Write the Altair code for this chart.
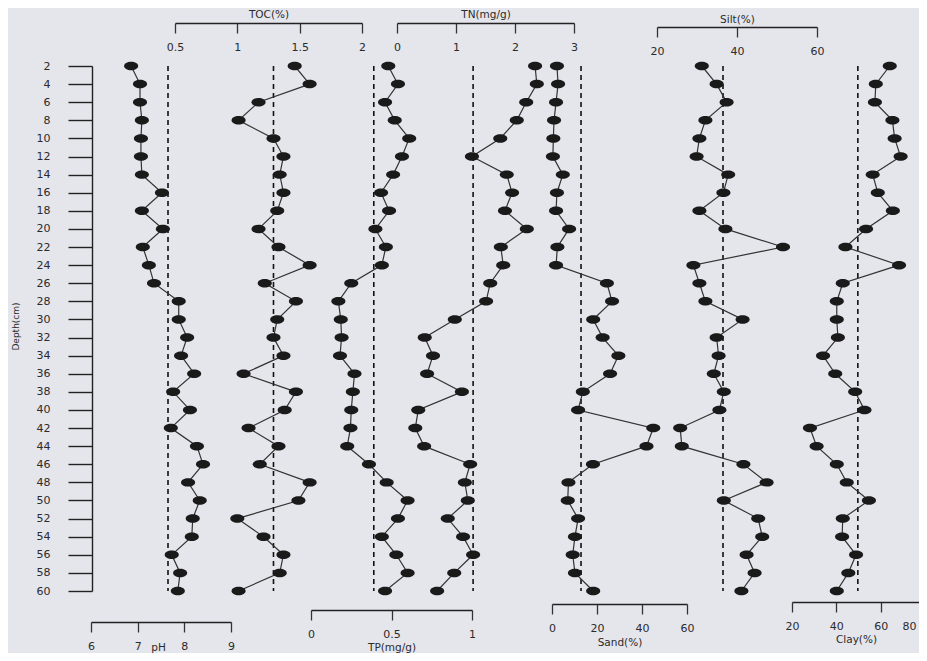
import altair as alt
import pandas as pd

# ---------------- data ----------------
depth = [2, 4, 6, 8, 10, 12, 14, 16, 18, 20, 22, 24, 26, 28, 30,
         32, 34, 36, 38, 40, 42, 44, 46, 48, 50, 52, 54, 56, 58, 60]

ph = [6.86, 7.05, 7.05, 7.09, 7.07, 7.07, 7.09, 7.52, 7.09, 7.54, 7.11, 7.24, 7.35, 7.88, 7.88,
      8.06, 7.93, 8.21, 7.76, 8.12, 7.71, 8.27, 8.40, 8.08, 8.33, 8.18, 8.16, 7.73, 7.91, 7.86]
toc = [1.46, 1.58, 1.17, 1.01, 1.29, 1.37, 1.34, 1.37, 1.32, 1.17, 1.33, 1.58, 1.22, 1.47, 1.32,
       1.29, 1.37, 1.05, 1.47, 1.38, 1.09, 1.33, 1.18, 1.58, 1.49, 1.00, 1.21, 1.37, 1.34, 1.01]
tp = [0.48, 0.54, 0.46, 0.52, 0.61, 0.565, 0.51, 0.435, 0.485, 0.40, 0.465, 0.44, 0.25, 0.17, 0.185,
      0.19, 0.18, 0.27, 0.26, 0.25, 0.245, 0.225, 0.36, 0.47, 0.60, 0.54, 0.44, 0.53, 0.60, 0.46]
tn = [2.34, 2.37, 2.19, 2.03, 1.75, 1.27, 1.86, 1.95, 1.83, 2.20, 1.76, 1.80, 1.58, 1.51, 0.98,
      0.47, 0.61, 0.51, 1.10, 0.36, 0.31, 0.46, 1.24, 1.15, 1.20, 0.86, 1.12, 1.29, 0.97, 0.68]
sand = [2.2, 2.7, 1.8, 0.9, 0.6, 0.4, 4.8, 2.2, 1.8, 7.6, 2.4, 1.8, 24.4, 26.7, 18.3,
        22.5, 29.5, 25.8, 13.7, 11.6, 45.0, 42.0, 18.2, 7.3, 7.0, 11.6, 10.2, 9.2, 10.2, 18.3]
silt = [31.2, 34.9, 37.4, 32.1, 30.6, 29.9, 37.8, 36.6, 30.6, 37.1, 51.5, 29.1, 30.6, 32.1, 41.4,
        34.9, 35.4, 34.2, 36.7, 35.6, 25.8, 26.2, 41.6, 47.4, 36.7, 45.3, 46.3, 42.4, 44.4, 41.1]
clay = [64.1, 57.8, 57.4, 65.3, 66.3, 69.0, 56.4, 58.7, 65.5, 53.4, 44.1, 68.3, 42.9, 40.2, 40.2,
        40.7, 34.0, 39.5, 48.5, 52.7, 28.1, 31.1, 40.2, 44.7, 54.7, 42.9, 42.6, 48.9, 45.4, 40.2]

# reference (dashed) lines
ref_lines = {"pH": 7.65, "TOC(%)": 1.29, "TP(mg/g)": 0.39, "TN(mg/g)": 1.29,
             "Sand(%)": 12.9, "Silt(%)": 36.5, "Clay(%)": 49.7}

# axis tick values
ticks_ph = [6, 7, 8, 9]
ticks_toc = [0.5, 1, 1.5, 2]
ticks_tp = [0, 0.5, 1]
ticks_tn = [0, 1, 2, 3]
ticks_sand = [0, 20, 40, 60]
ticks_silt = [20, 40, 60]
ticks_clay = [20, 40, 60, 80]

# ---------------- styling / layout ----------------
W, H = 911, 645
BG = "#e5e5ec"
TXT = "#2b2b2b"
PT = "#1a1a1a"
FONT = "DejaVu Sans"
ELLIPSE = "M-1,0A1,0.6 0 1,1 1,0A1,0.6 0 1,1 -1,0Z"


def P(v):
    """page pixel -> plot pixel"""
    return v - 8


yscale = alt.Scale(domain=[2, 60], range=[P(66), P(591)], nice=False, zero=False)
yaxis = alt.Axis(orient="left", offset=-(92 - 8), values=depth, tickSize=24, tickWidth=1.4,
                 tickColor="#222", domainColor="#222", domainWidth=1.4,
                 labelPadding=18, labelFont=FONT, labelFontSize=11, labelColor=TXT,
                 labelOverlap=False, grid=False,
                 title="Depth(cm)", titleFont=FONT, titleFontSize=9, titleFontWeight="normal",
                 titleColor=TXT, titleX=15 - 92, titleY=P(326), titleBaseline="middle")
Y = alt.Y("depth:Q", scale=yscale, axis=yaxis)

# name, values, domain, page range, ticks, axis-line page y, title offset from axis line, titleX, last label right?
profiles = [
    ("pH", ph, [6, 9], [91, 231], ticks_ph, 622, 25, P(158), False),
    ("TOC(%)", toc, [0.5, 2], [175, 362], ticks_toc, 23, -9, None, False),
    ("TP(mg/g)", tp, [0, 1], [311, 472], ticks_tp, 610, 37, None, False),
    ("TN(mg/g)", tn, [0, 3], [397, 574], ticks_tn, 23, -9, None, False),
    ("Sand(%)", sand, [0, 60], [552, 687], ticks_sand, 604, 38, None, False),
    ("Silt(%)", silt, [20, 60], [657, 817], ticks_silt, 27, -8, None, False),
    ("Clay(%)", clay, [20, 80], [792, 925], ticks_clay, 602, 37, P(856), True),
]

layers = []
for name, vals, dom, rng, tks, ay, tdy, tx, last_right in profiles:
    xscale = alt.Scale(domain=dom, range=[P(rng[0]), P(rng[1])], nice=False, zero=False)
    axis_kw = dict(orient="bottom", offset=ay - (8 + H), values=tks, labelExpr="'' + datum.value",
                   tickSize=10, tickWidth=1.3, tickColor="#333",
                   domainColor="#222", domainWidth=1.4,
                   labelPadding=8, labelFont=FONT, labelFontSize=11, labelColor=TXT,
                   labelFlush=False, labelOverlap=False, grid=False,
                   title=name, titleFont=FONT, titleFontSize=10.5, titleFontWeight="normal",
                   titleColor=TXT, titleY=tdy, titleBaseline="middle")
    if tx is not None:
        axis_kw["titleX"] = tx
    if last_right:
        axis_kw["labelAlign"] = alt.ExprRef(expr=f"datum.value == {tks[-1]} ? 'right' : 'center'")
        axis_kw["labelOffset"] = alt.ExprRef(expr=f"datum.value == {tks[-1]} ? -9 : 0")
    xaxis = alt.Axis(**axis_kw)

    df = pd.DataFrame({"depth": depth, "v": vals})
    rdf = pd.DataFrame({"v": [ref_lines[name]], "depth": [depth[0]], "depth_end": [depth[-1]]})

    rule = alt.Chart(rdf).mark_rule(color="#111", strokeWidth=1.6, strokeDash=[5, 4]).encode(
        x=alt.X("v:Q", scale=xscale, axis=None), y=Y, y2="depth_end:Q")
    line = alt.Chart(df).mark_line(color="#333", strokeWidth=1.2).encode(
        x=alt.X("v:Q", scale=xscale, axis=xaxis), y=Y, order=alt.Order("depth:Q"))
    pts = alt.Chart(df).mark_point(shape=ELLIPSE, size=200, filled=True, color=PT,
                                   opacity=1, strokeWidth=0).encode(
        x=alt.X("v:Q", scale=xscale, axis=None), y=Y)
    layers.extend([rule, line, pts])

chart = alt.layer(*layers).resolve_scale(x="independent").resolve_axis(x="independent").properties(
    width=W, height=H, padding=0, autosize=alt.AutoSizeParams(type="none"), background=BG
).configure_view(stroke=None)

chart.save("out.html", embed_options={"renderer": "svg", "actions": False})
